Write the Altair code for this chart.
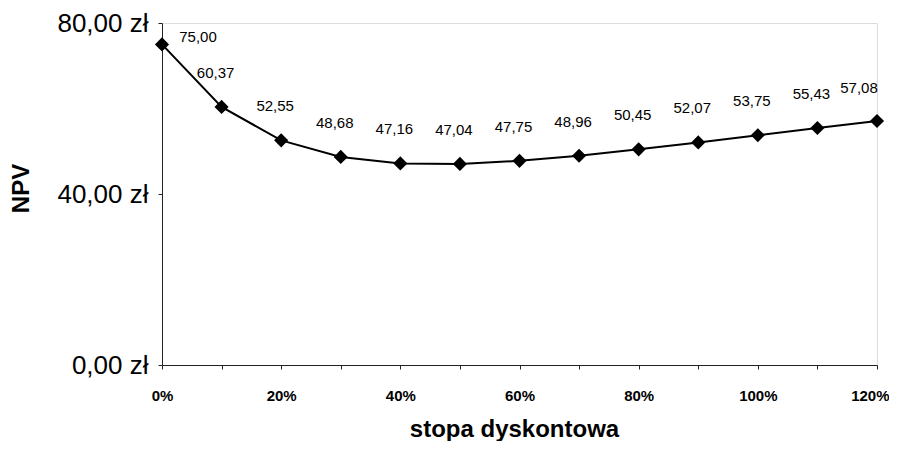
import altair as alt
import pandas as pd

rates = [0.0, 0.1, 0.2, 0.3, 0.4, 0.5, 0.6, 0.7, 0.8, 0.9, 1.0, 1.1, 1.2]
npv = [75.00, 60.37, 52.55, 48.68, 47.16, 47.04, 47.75, 48.96, 50.45, 52.07, 53.75, 55.43, 57.08]
y_ticks = [0, 40, 80]
x_ticks = [0.0, 0.1, 0.2, 0.3, 0.4, 0.5, 0.6, 0.7, 0.8, 0.9, 1.0, 1.1, 1.2]

df = pd.DataFrame({"rate": rates, "npv": npv, "idx": list(range(len(rates)))})
last_idx = len(rates) - 1

FONT = "Liberation Sans"

x_enc = alt.X(
    "rate:Q",
    scale=alt.Scale(domain=[0, 1.2], nice=False, zero=False),
    axis=alt.Axis(
        values=x_ticks,
        labelExpr="round(datum.value*100) % 20 == 0 ? format(datum.value, '.0%') : ''",
        labelOverlap=False,
        labelFlush=False,
        labelAlign={"condition": {"test": "datum.value >= 1.15", "value": "right"}, "value": "center"},
        labelOffset={"condition": {"test": "datum.value >= 1.15", "value": 12}, "value": 0},
        labelFontSize=15,
        labelFontWeight="bold",
        labelFont=FONT,
        labelColor="black",
        labelPadding=19,
        tickSize=4,
        tickColor="#222",
        domainColor="#222",
        grid=False,
        title="stopa dyskontowa",
        titleFontSize=24,
        titleFontWeight="bold",
        titleFont=FONT,
        titleColor="black",
        titleX=352,
        titleY=71,
        titleAlign="center",
        titleBaseline="alphabetic",
    ),
)

y_enc = alt.Y(
    "npv:Q",
    scale=alt.Scale(domain=[0, 80], nice=False),
    axis=alt.Axis(
        values=y_ticks,
        labelExpr="replace(format(datum.value, '.2f'), '.', ',') + ' zł'",
        labelFontSize=26,
        labelFont=FONT,
        labelColor="black",
        labelPadding=10,
        tickSize=4,
        tickColor="#222",
        domainColor="#222",
        grid=False,
        title="NPV",
        titleFontSize=24,
        titleFontWeight="bold",
        titleFont=FONT,
        titleColor="black",
        titleX=-141,
        titleY=165,
        titleAngle=-90,
        titleAlign="center",
        titleBaseline="middle",
    ),
)

base = alt.Chart(df).encode(x=x_enc, y=y_enc)

line = base.mark_line(color="black", strokeWidth=2)
points = base.mark_point(shape="diamond", filled=True, color="black", size=200, opacity=1)

labelled = base.transform_calculate(
    lbl="replace(format(datum.npv, '.2f'), '.', ',')"
)

txt_kw = dict(fontSize=15, font=FONT, color="black", baseline="middle", align="center")

labels_first = labelled.transform_filter("datum.idx == 0").mark_text(dx=36, dy=-7, **txt_kw).encode(text="lbl:N")
labels_mid = labelled.transform_filter(f"datum.idx > 0 && datum.idx < {last_idx}").mark_text(dx=-6, dy=-34, **txt_kw).encode(text="lbl:N")
labels_last = labelled.transform_filter(f"datum.idx == {last_idx}").mark_text(dx=-18, dy=-33, **txt_kw).encode(text="lbl:N")

chart = (
    alt.layer(line, points, labels_first, labels_mid, labels_last)
    .properties(
        width=715,
        height=342,
        autosize=alt.AutoSizeParams(type="none"),
        padding={"left": 154, "top": 15, "right": 12, "bottom": 76},
    )
    .configure_view(stroke=None)
    .configure(background="white")
)

chart.save("out.html", embed_options={"renderer": "svg", "actions": False})
